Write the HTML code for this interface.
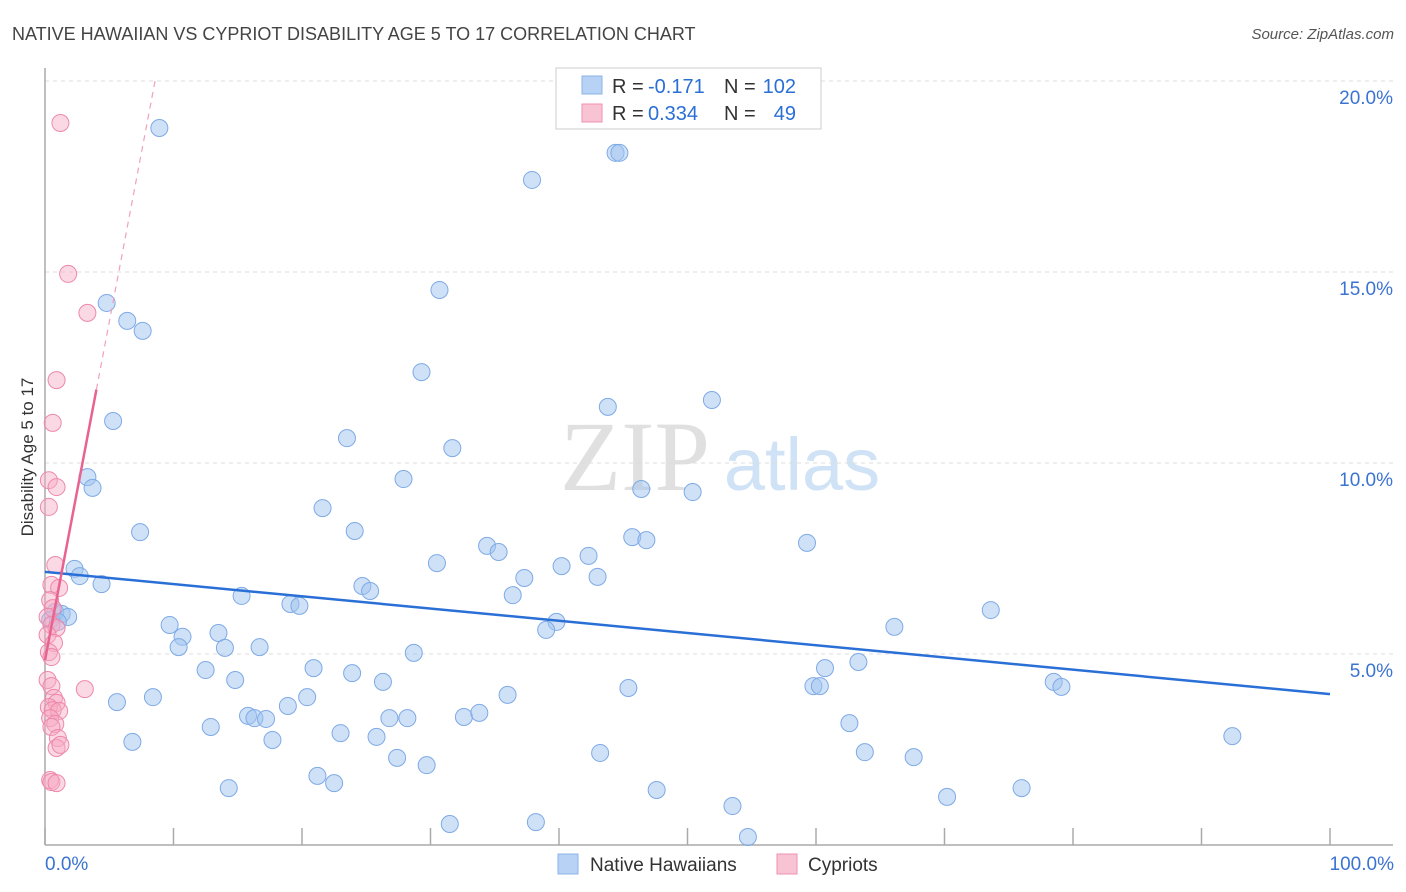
<!DOCTYPE html>
<html><head><meta charset="utf-8"><style>
body{margin:0;background:#fff;font-family:"Liberation Sans",sans-serif;}
#wrap{position:relative;width:1406px;height:892px;overflow:hidden;}
</style></head><body>
<div id="wrap">
<svg id="chart" width="1406" height="892" xmlns="http://www.w3.org/2000/svg">
<text x="12" y="40" font-size="18" fill="#444">NATIVE HAWAIIAN VS CYPRIOT DISABILITY AGE 5 TO 17 CORRELATION CHART</text>
<text x="1394" y="39" font-size="15" fill="#555" font-style="italic" text-anchor="end">Source: ZipAtlas.com</text>
<text transform="translate(33,457) rotate(-90)" font-size="17" fill="#333" text-anchor="middle">Disability Age 5 to 17</text>
<g>
<text x="635" y="490" font-size="100" font-family="Liberation Serif,serif" fill="#e0e0e0" text-anchor="middle">ZIP</text>
<text x="802" y="490" font-size="74" fill="#d0e2f5" text-anchor="middle">atlas</text>
</g>
<g id="grid"></g>
<g id="axes"></g>
<g id="pts"></g>
<g id="trend"></g>
<g>
<rect x="556" y="68" width="265" height="61" fill="#fff" stroke="#ccc"/>
<rect x="582" y="76" width="20" height="18" fill="#b7d2f4" stroke="#8ab4e8"/>
<text x="612" y="93" font-size="20" fill="#333">R =</text>
<text x="648" y="93" font-size="20" fill="#2a6fd6">-0.171</text>
<text x="724" y="93" font-size="20" fill="#333">N =</text>
<text x="796" y="93" font-size="20" fill="#2a6fd6" text-anchor="end">102</text>
<rect x="582" y="104" width="20" height="18" fill="#f8c4d4" stroke="#f08fb0"/>
<text x="612" y="120" font-size="20" fill="#333">R =</text>
<text x="648" y="120" font-size="20" fill="#2a6fd6">0.334</text>
<text x="724" y="120" font-size="20" fill="#333">N =</text>
<text x="796" y="120" font-size="20" fill="#2a6fd6" text-anchor="end">49</text>
</g>
<g>
<rect x="558" y="854" width="20" height="20" fill="#b7d2f4" stroke="#8ab4e8"/>
<text x="590" y="871" font-size="19" fill="#333">Native Hawaiians</text>
<rect x="777" y="854" width="20" height="20" fill="#f8c4d4" stroke="#f08fb0"/>
<text x="808" y="871" font-size="19" fill="#333">Cypriots</text>
</g>
</svg>
</div>
<script>
const yTicks=[5,10,15,20];
const yTickLabels=["5.0%","10.0%","15.0%","20.0%"];
const xTickVals=[0,10,20,30,40,50,60,70,80,90,100];
const blueX=[8.9,44.4,44.7,37.9,30.7,4.8,6.4,7.6,29.3,51.9,43.8,5.3,23.5,31.7,3.3,3.7,27.9,46.4,50.4,21.6,7.4,24.1,45.7,46.8,59.3,34.4,35.3,30.5,40.2,42.3,2.3,2.7,4.4,37.3,43.0,24.7,25.3,36.4,15.3,19.1,19.8,73.6,0.8,1.3,1.8,0.4,1.0,9.7,39.8,39.0,66.1,10.7,13.5,10.4,14.0,16.7,28.7,63.3,60.7,20.9,12.5,23.9,14.8,26.3,78.5,79.1,59.8,60.3,45.4,20.4,8.4,36.0,5.6,18.9,15.8,16.3,17.2,26.8,28.2,32.6,33.8,12.9,62.6,23.0,25.8,17.7,6.8,92.4,43.2,63.8,27.4,67.6,29.7,21.2,22.5,14.3,47.6,76.0,70.2,53.5,31.5,38.2,54.7];
const blueY=[18.77,18.12,18.12,17.41,14.53,14.19,13.72,13.46,12.38,11.65,11.47,11.1,10.65,10.39,9.63,9.35,9.58,9.32,9.24,8.82,8.19,8.22,8.06,7.98,7.91,7.83,7.67,7.38,7.30,7.57,7.23,7.04,6.83,6.99,7.02,6.78,6.65,6.54,6.52,6.31,6.26,6.15,6.10,6.05,5.97,5.89,5.84,5.76,5.84,5.63,5.71,5.45,5.55,5.18,5.16,5.18,5.03,4.79,4.63,4.63,4.58,4.50,4.32,4.27,4.27,4.14,4.16,4.16,4.11,3.87,3.87,3.93,3.74,3.64,3.38,3.32,3.30,3.32,3.32,3.35,3.46,3.09,3.19,2.93,2.83,2.75,2.70,2.85,2.41,2.43,2.28,2.30,2.09,1.81,1.62,1.49,1.44,1.49,1.26,1.02,0.55,0.60,0.21];
const pinkX=[1.2,1.8,3.3,0.9,0.6,0.3,0.9,0.3,0.8,0.5,1.1,0.4,0.6,0.2,0.5,0.9,0.2,0.7,0.3,0.5,0.2,0.5,3.1,0.7,0.9,0.3,0.6,1.1,0.4,0.8,0.5,1.0,0.9,1.2,0.4,0.5,0.9];
const pinkY=[18.9,14.95,13.93,12.17,11.05,9.55,9.37,8.85,7.33,6.81,6.73,6.41,6.2,5.97,5.76,5.68,5.5,5.29,5.05,4.92,4.32,4.16,4.08,3.85,3.72,3.61,3.53,3.51,3.32,3.17,3.09,2.80,2.54,2.62,1.70,1.65,1.62];
const blueTrend=[7.15,3.95];
const pinkTrend=[4.84,1.77];
const NS="http://www.w3.org/2000/svg";
const X0=45,X1=1330,Y0=845,PX5=191;
const sx=v=>X0+(X1-X0)*v/100;
const sy=v=>Y0-PX5*v/5;
function mk(tag,attrs,parent){const e=document.createElementNS(NS,tag);for(const k in attrs)e.setAttribute(k,attrs[k]);parent.appendChild(e);return e;}
const grid=document.getElementById('grid'),axes=document.getElementById('axes'),pts=document.getElementById('pts'),trend=document.getElementById('trend');
yTicks.forEach((t,i)=>{
 const l=mk('line',{x1:X0,x2:1393,y1:sy(t),y2:sy(t),stroke:'#ddd','stroke-dasharray':'4,4'},grid);
 
 
 const tx=mk('text',{x:1393,y:sy(t)+23,'font-size':19,fill:'#3b73d1','text-anchor':'end'},axes);
 tx.textContent=yTickLabels[i];
 
 
});
let a=mk('line',{x1:X0,x2:X0,y1:68,y2:Y0,stroke:'#aaa','stroke-width':1.5},axes);


a=mk('line',{x1:X0,x2:1393,y1:Y0,y2:Y0,stroke:'#aaa','stroke-width':1.5},axes);


xTickVals.forEach(t=>{
 const l=mk('line',{x1:sx(t),x2:sx(t),y1:828,y2:Y0,stroke:'#aaa','stroke-width':1.5},axes);
 
 
});
let t0=mk('text',{x:45,y:870,'font-size':19,fill:'#3b73d1'},axes);t0.textContent='0.0%';


let t1=mk('text',{x:1394,y:870,'font-size':19,fill:'#3b73d1','text-anchor':'end'},axes);t1.textContent='100.0%';


blueX.forEach((v,i)=>{
 const c=mk('circle',{cx:sx(v),cy:sy(blueY[i]),r:8.5,fill:'rgba(160,196,240,0.5)',stroke:'#7eaae6','stroke-width':1},pts);
 
 
});
pinkX.forEach((v,i)=>{
 const c=mk('circle',{cx:sx(v),cy:sy(pinkY[i]),r:8.5,fill:'rgba(246,170,196,0.45)',stroke:'#ee88aa','stroke-width':1},pts);
 
 
});
let bl=mk('line',{x1:sx(0),y1:sy(blueTrend[0]),x2:sx(100),y2:sy(blueTrend[1]),stroke:'#2a6fd6','stroke-width':2.5},trend);


const pEnd=4.0, pTop=(20-pinkTrend[0])/pinkTrend[1];
let pl=mk('line',{x1:sx(0),y1:sy(pinkTrend[0]),x2:sx(pEnd),y2:sy(pinkTrend[0]+pinkTrend[1]*pEnd),stroke:'#e8638f','stroke-width':2.5},trend);


let pd=mk('line',{x1:sx(pEnd),y1:sy(pinkTrend[0]+pinkTrend[1]*pEnd),x2:sx(pTop),y2:sy(20),stroke:'#f0a0bb','stroke-width':1.2,'stroke-dasharray':'6,5'},trend);


</script>
</body></html>
